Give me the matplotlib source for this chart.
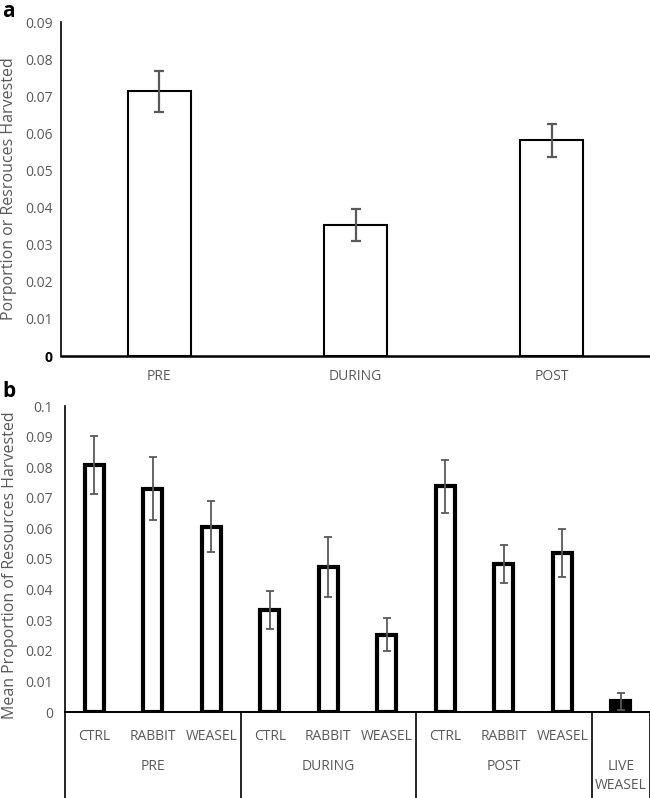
import numpy as np
import matplotlib
matplotlib.use('Agg')
import matplotlib.pyplot as plt

plt.rcParams['font.family'] = ['Open Sans', 'DejaVu Sans']

GRAY = '#595959'

# panel a
phases_a = ['PRE', 'DURING', 'POST']
mean_a = [0.0713, 0.0352, 0.0581]
err_a = [0.0055, 0.0043, 0.0044]

# panel b
treat_b = ['CTRL', 'RABBIT', 'WEASEL', 'CTRL', 'RABBIT', 'WEASEL', 'CTRL', 'RABBIT', 'WEASEL', '']
mean_b = [0.0807, 0.0730, 0.0605, 0.0334, 0.0474, 0.0253, 0.0737, 0.0485, 0.0520, 0.0035]
err_b = [0.0095, 0.0103, 0.0083, 0.0063, 0.0098, 0.0055, 0.0087, 0.0062, 0.0078, 0.0027]
groups_b = ['PRE', 'DURING', 'POST', 'LIVE\nWEASEL']
group_sizes = [3, 3, 3, 1]

fig = plt.figure(figsize=(6.5, 7.98), dpi=100)

# ---------- a ----------
ax1 = fig.add_axes([61 / 650, 1 - 356 / 798, 1 - 61 / 650, (356 - 22) / 798])
xa = np.arange(len(phases_a)) + 0.5
ax1.bar(xa, mean_a, width=0.32, color='white', edgecolor='black', linewidth=1.5, zorder=2)
ax1.errorbar(xa, mean_a, yerr=err_a, fmt='none', ecolor=GRAY, elinewidth=1.6,
             capsize=3.5, capthick=1.6, zorder=3)
ax1.set_xlim(0, 3)
ax1.set_ylim(0, 0.09)
ax1.set_yticks(np.arange(0, 0.091, 0.01))
ax1.set_yticklabels(['0'] + ['%.2f' % v for v in np.arange(0.01, 0.091, 0.01)])
ax1.set_xticks(xa)
ax1.set_xticklabels(phases_a)
ax1.tick_params(axis='y', length=0, pad=6, labelsize=10, labelcolor=GRAY)
ax1.tick_params(axis='x', length=0, pad=9, labelsize=10, labelcolor=GRAY)
ax1.get_yticklabels()[0].set_fontweight('bold')
ax1.get_yticklabels()[0].set_color('black')
for s in ['top', 'right']:
    ax1.spines[s].set_visible(False)
ax1.spines['left'].set_linewidth(1.2)
ax1.spines['bottom'].set_linewidth(1.8)
ax1.set_ylabel('Porportion or Resrouces Harvested', fontsize=11.5, color=GRAY)
ax1.yaxis.set_label_coords(-0.074, 0.5)
fig.text(0.003, 0.999, 'a', fontsize=15, fontweight='bold', va='top', ha='left')

# ---------- b ----------
ax2 = fig.add_axes([65 / 650, 1 - 712 / 798, 1 - 65 / 650, (712 - 406) / 798])
xb = np.arange(len(mean_b)) + 0.5
colors_b = ['white'] * 9 + ['black']
ax2.bar(xb, mean_b, width=0.33, color=colors_b, edgecolor='black', linewidth=3, zorder=2)
ax2.errorbar(xb, mean_b, yerr=err_b, fmt='none', ecolor=GRAY, elinewidth=1.3,
             capsize=3, capthick=1.3, zorder=3)
ax2.set_xlim(0, 10)
ax2.set_ylim(0, 0.1)
ax2.set_yticks(np.arange(0, 0.101, 0.01))
ax2.set_yticklabels(['0'] + ['%.2f' % v for v in np.arange(0.01, 0.091, 0.01)] + ['0.1'])
ax2.set_xticks(xb)
ax2.set_xticklabels(treat_b)
ax2.tick_params(axis='y', length=0, pad=8.5, labelsize=10, labelcolor=GRAY)
ax2.tick_params(axis='x', length=0, pad=12, labelsize=10, labelcolor=GRAY)
for s in ['top', 'right']:
    ax2.spines[s].set_visible(False)
ax2.spines['left'].set_linewidth(1.2)
ax2.spines['bottom'].set_linewidth(1.4)
ax2.set_ylabel('Mean Proportion of Resources Harvested', fontsize=11.5, color=GRAY)
ax2.yaxis.set_label_coords(-0.080, 0.48)

# group labels and separators under the axis
trans = ax2.get_xaxis_transform()
edges = np.concatenate([[0], np.cumsum(group_sizes)])
for e in edges:
    ax2.plot([e, e], [0, -0.3], color='black', linewidth=1.2, transform=trans, clip_on=False)
for g, lo, hi in zip(groups_b, edges[:-1], edges[1:]):
    ax2.text((lo + hi) / 2, -0.155, g, transform=trans, ha='center', va='top',
             fontsize=10, color=GRAY, linespacing=1.35)
fig.text(0.003, 1 - 381 / 798, 'b', fontsize=15, fontweight='bold', va='top', ha='left')

fig.savefig('out.png', dpi=100)
